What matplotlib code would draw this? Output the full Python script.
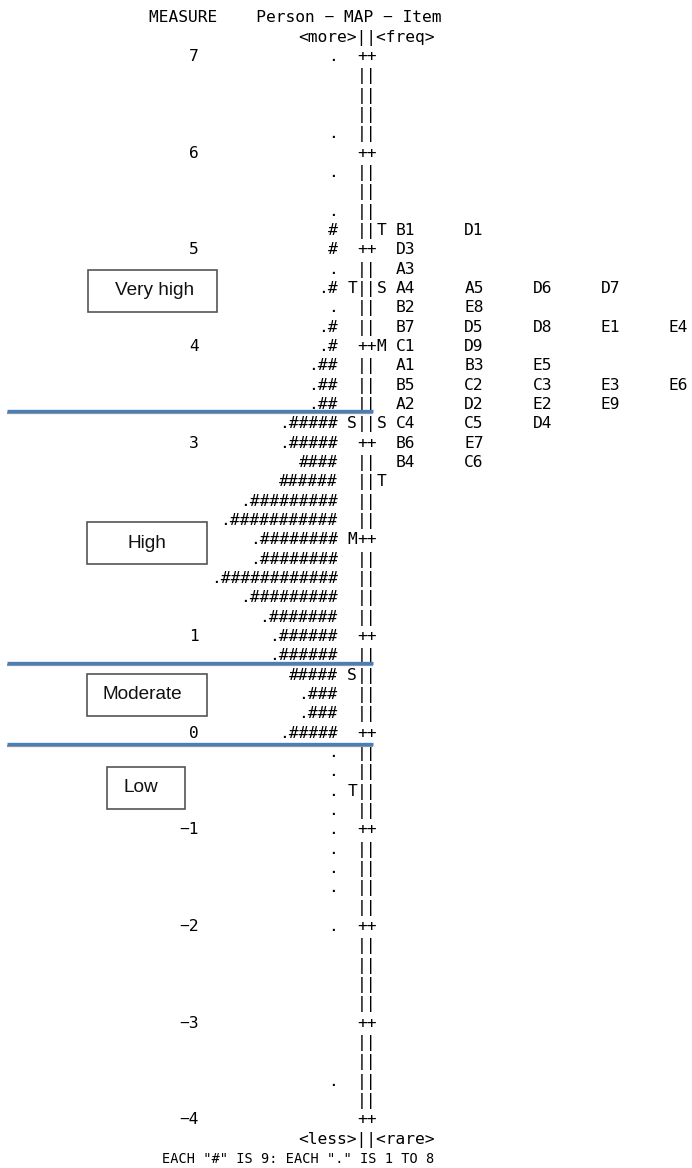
import numpy as np
import matplotlib.pyplot as plt
from matplotlib.patches import Rectangle

# Wright map (person - item map), one text row = 0.2 logits
measure_ticks = [7, 6, 5, 4, 3, 2, 1, 0, -1, -2, -3, -4]

# persons: row measure, number of "#" (9 persons each), "." (1 to 8 persons)
person_rows = [7.0, 6.2, 5.8, 5.4, 5.2, 5.0, 4.8, 4.6, 4.4, 4.2, 4.0, 3.8, 3.6, 3.4,
               3.2, 3.0, 2.8, 2.6, 2.4, 2.2, 2.0, 1.8, 1.6, 1.4, 1.2, 1.0, 0.8, 0.6,
               0.4, 0.2, 0.0, -0.2, -0.4, -0.6, -0.8, -1.0, -1.2, -1.4, -1.6, -2.0, -3.6]
person_hashes = [0, 0, 0, 0, 1, 1, 0, 1, 0, 1, 1, 2, 2, 2,
                 5, 5, 4, 6, 9, 11, 8, 8, 12, 9, 7, 6, 6, 5,
                 3, 3, 5, 0, 0, 0, 0, 0, 0, 0, 0, 0, 0]
person_dots = [1, 1, 1, 1, 0, 0, 1, 1, 1, 1, 1, 1, 1, 1,
               1, 1, 0, 0, 1, 1, 1, 1, 1, 1, 1, 1, 1, 0,
               1, 1, 1, 1, 1, 1, 1, 1, 1, 1, 1, 1, 1]

# items and their measures
item_names = ['B1', 'D1', 'D3', 'A3', 'A4', 'A5', 'D6', 'D7', 'B2', 'E8',
              'B7', 'D5', 'D8', 'E1', 'E4', 'C1', 'D9', 'A1', 'B3', 'E5',
              'B5', 'C2', 'C3', 'E3', 'E6', 'A2', 'D2', 'E2', 'E9',
              'C4', 'C5', 'D4', 'B6', 'E7', 'B4', 'C6']
item_measures = [5.2, 5.2, 5.0, 4.8, 4.6, 4.6, 4.6, 4.6, 4.4, 4.4,
                 4.2, 4.2, 4.2, 4.2, 4.2, 4.0, 4.0, 3.8, 3.8, 3.8,
                 3.6, 3.6, 3.6, 3.6, 3.6, 3.4, 3.4, 3.4, 3.4,
                 3.2, 3.2, 3.2, 3.0, 3.0, 2.8, 2.8]

# mean / 1 SD / 2 SD markers
person_marks = ['T', 'S', 'M', 'S', 'T']
person_mark_pos = [4.6, 3.2, 2.0, 0.6, -0.6]
item_marks = ['T', 'S', 'M', 'S', 'T']
item_mark_pos = [5.2, 4.6, 4.0, 3.2, 2.6]

# ability bands
band_names = ['Very high', 'High', 'Moderate', 'Low']
band_cuts = [3.32, 0.71, -0.13]

mono = dict(family='DejaVu Sans Mono', fontsize=11.66, color='black',
            va='center_baseline')

fig = plt.figure(figsize=(6.92, 11.68), dpi=100)
ax = fig.add_axes([0, 0, 1, 1])
# x in character columns (0 = first "|"), y in logits
ax.set_xlim(-36.615, 34.359)
ax.set_ylim(-4.513, 7.569)
ax.axis('off')

# ruler
for m in np.round(np.linspace(7, -4, 56), 1):
    ax.text(0, m, '++' if m == round(m) else '||', ha='left', **mono)

for m in measure_ticks:
    ax.text(-16.2, m, str(m).replace('-', '\u2212'), ha='right', **mono)

for m, nh, nd in zip(person_rows, person_hashes, person_dots):
    ax.text(-2, m, '.' * nd + '#' * nh, ha='right', **mono)

for lab, m in zip(person_marks, person_mark_pos):
    ax.text(-1, m, lab, ha='left', **mono)
for lab, m in zip(item_marks, item_mark_pos):
    ax.text(2, m, lab, ha='left', **mono)

slot = {}
for name, m in zip(item_names, item_measures):
    k = slot.get(m, 0)
    ax.text(4 + 7 * k, m, name, ha='left', **mono)
    slot[m] = k + 1

ax.text(-21.3, 7.4, 'MEASURE    Person \u2212 MAP \u2212 Item', ha='left', **mono)
ax.text(-6, 7.2, '<more>||<freq>', ha='left', **mono)
ax.text(-6, -4.2, '<less>||<rare>', ha='left', **mono)
mono_small = dict(mono, fontsize=9.8)
ax.text(-20, -4.4, 'EACH "#" IS 9: EACH "." IS 1 TO 8', ha='left', **mono_small)

# band boundaries
for y in band_cuts:
    ax.plot([-35.9, 1.6], [y - 0.022, y - 0.022], color='#9a9a9a', lw=1.6, zorder=4,
            solid_capstyle='butt')
    ax.plot([-35.9, 1.6], [y, y], color='#4a7ebb', lw=2.4, zorder=5,
            solid_capstyle='butt')

# band label boxes
box_x = [(-27.6, -14.35), (-27.7, -15.4), (-27.7, -15.4), (-25.65, -17.65)]
box_y = [4.56, 1.95, 0.38, -0.58]
text_x = [-20.75, -21.5, -22.0, -22.2]
for name, (x0, x1), yc, tx in zip(band_names, box_x, box_y, text_x):
    ax.add_patch(Rectangle((x0, yc - 0.217), x1 - x0, 0.434, facecolor='white',
                           edgecolor='#555555', lw=1.2, zorder=6))
    ax.text(tx, yc, name, ha='center', va='center', family='Liberation Sans',
            fontsize=13.7, color='#111111', zorder=7)

fig.savefig('out.png', dpi=100)
